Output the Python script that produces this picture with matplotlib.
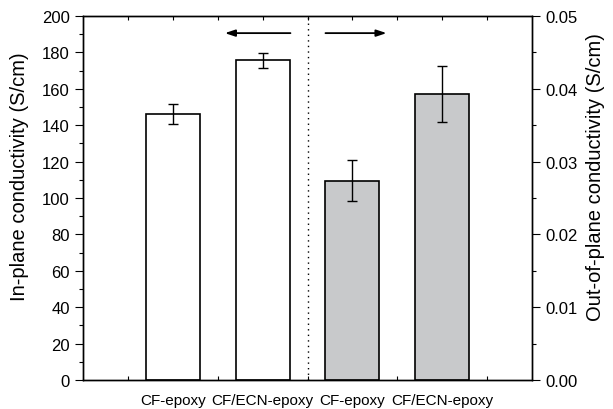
import matplotlib
matplotlib.use("Agg")
import matplotlib.pyplot as plt
import numpy as np

plt.rcParams["font.family"] = ["Liberation Sans", "DejaVu Sans"]

# in-plane conductivity (left axis, S/cm)
in_plane_pos = [1, 2]
in_plane_mean = [146.0, 175.6]
in_plane_err = [5.4, 3.9]

# out-of-plane conductivity (right axis, S/cm)
out_plane_pos = [3, 4]
out_plane_mean = [0.0274, 0.0393]
out_plane_err = [0.0028, 0.0039]

tick_labels = ["CF-epoxy", "CF/ECN-epoxy", "CF-epoxy", "CF/ECN-epoxy"]

fig = plt.figure(figsize=(6.13, 4.10), dpi=100)
ax = fig.add_axes([0.1354, 0.0707, 0.7325, 0.8878])
ax2 = ax.twinx()

bar_w = 0.6
ax.bar(in_plane_pos, in_plane_mean, width=bar_w, color="white", edgecolor="black",
       linewidth=1.2, zorder=2)
ax.errorbar(in_plane_pos, in_plane_mean, yerr=in_plane_err, fmt="none", ecolor="black",
            elinewidth=1.0, capsize=3.5, capthick=1.0, zorder=3)

ax2.bar(out_plane_pos, out_plane_mean, width=bar_w, color="#c8c9cb", edgecolor="black",
        linewidth=1.2, zorder=2)
ax2.errorbar(out_plane_pos, out_plane_mean, yerr=out_plane_err, fmt="none", ecolor="black",
             elinewidth=1.0, capsize=3.5, capthick=1.0, zorder=3)

# divider between the two groups
ax.axvline(2.5, color="black", linestyle=(0, (1, 3)), linewidth=1.0)

# arrows pointing to the axis each group belongs to
arrow_style = dict(arrowstyle="-|>,head_length=0.6,head_width=0.2", color="black", lw=1.3,
                   shrinkA=0, shrinkB=0)
ax.annotate("", xy=(1.58, 190.6), xytext=(2.31, 190.6), arrowprops=arrow_style)
ax.annotate("", xy=(3.38, 190.6), xytext=(2.7, 190.6), arrowprops=arrow_style)

ax.set_xlim(0, 5)
ax.set_ylim(0, 200)
ax2.set_ylim(0, 0.05)

x_ticks = np.arange(0.5, 5.0, 0.5)
ax.set_xticks(x_ticks)
labels = []
for t in x_ticks:
    if t in in_plane_pos + out_plane_pos:
        labels.append(tick_labels[int(t) - 1])
    else:
        labels.append("")
ax.set_xticklabels(labels)
ax.tick_params(axis="x", direction="in", length=3, width=0.8, top=True, labelsize=11, pad=9)

ax.set_yticks(np.arange(0, 201, 20))
ax.set_yticks(np.arange(0, 201, 10), minor=True)
ax.tick_params(axis="y", which="major", direction="out", length=6, width=0.8, labelsize=12)
ax.tick_params(axis="y", which="minor", direction="out", length=3, width=0.8)

ax2.set_yticks(np.arange(0, 0.0501, 0.01))
ax2.set_yticks(np.arange(0, 0.0501, 0.005), minor=True)
ax2.set_yticklabels([f"{v:.2f}" for v in np.arange(0, 0.0501, 0.01)])
ax2.tick_params(axis="y", which="major", direction="out", length=6, width=0.8, labelsize=12)
ax2.tick_params(axis="y", which="minor", direction="out", length=3, width=0.8)

ax.set_ylabel("In-plane conductivity (S/cm)", fontsize=14.5, labelpad=9)
ax2.set_ylabel("Out-of-plane conductivity (S/cm)", fontsize=14.5, labelpad=6)
ax.yaxis.label.set_y(0.56)
ax2.yaxis.label.set_y(0.56)

for a in (ax, ax2):
    for s in a.spines.values():
        s.set_linewidth(1.0)

fig.savefig("out.png", dpi=100)
